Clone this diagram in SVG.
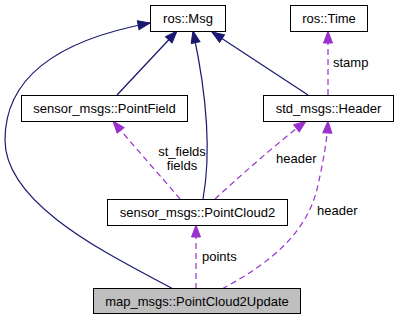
<svg xmlns="http://www.w3.org/2000/svg" width="399" height="320" viewBox="0 0 399 320">
  <style>
    .node rect { fill: #ffffff; stroke: #000000; stroke-width: 1; }
    .node.current rect { fill: #bfbfbf; }
    .node text { font-family: "Liberation Sans", Arial, sans-serif; font-size: 13px; text-anchor: middle; fill: #000000; }
    .inherit { fill: none; stroke: #191970; stroke-width: 1.2; }
    .member { fill: none; stroke: #9a32cd; stroke-width: 1.2; stroke-dasharray: 6,4; }
    .label { font-family: "Liberation Sans", Arial, sans-serif; font-size: 13px; fill: #000000; }
  </style>
  <defs>
    <marker id="arrowInherit" markerUnits="userSpaceOnUse" markerWidth="14" markerHeight="11" refX="13" refY="5" orient="auto">
      <path d="M1,0.5 L13,5 L1,9.5 Z" fill="#191970" stroke="#191970" stroke-width="1"/>
    </marker>
    <marker id="arrowMember" markerUnits="userSpaceOnUse" markerWidth="14" markerHeight="11" refX="13" refY="5" orient="auto">
      <path d="M1,0.5 L13,5 L1,9.5 Z" fill="#9a32cd" stroke="#9a32cd" stroke-width="1"/>
    </marker>
  </defs>

  <g id="edges">
    <!-- inheritance edges -->
    <path class="inherit" marker-end="url(#arrowInherit)" d="M173,289 C110,255 5,205 5,140 C5,65 80,36 150,23"/>
    <path class="inherit" marker-end="url(#arrowInherit)" d="M117,95 L177,31"/>
    <path class="inherit" marker-end="url(#arrowInherit)" d="M203,199 C210,160 209,105 193,31"/>
    <path class="inherit" marker-end="url(#arrowInherit)" d="M308,95 L212,32"/>
    <!-- member usage edges -->
    <path class="member" marker-end="url(#arrowMember)" d="M328,95 L328,31"/>
    <text class="label" x="333" y="67">stamp</text>
    <path class="member" marker-end="url(#arrowMember)" d="M180,199 C160,175 135,148 113,121"/>
    <text class="label" x="182" y="156" text-anchor="middle">st_fields</text>
    <text class="label" x="182" y="170" text-anchor="middle">fields</text>
    <path class="member" marker-end="url(#arrowMember)" d="M215,199 C240,176 275,145 306,121"/>
    <text class="label" x="276" y="163">header</text>
    <path class="member" marker-end="url(#arrowMember)" d="M222,289 C272,262 308,232 318,185 C324,158 327,140 328,121"/>
    <text class="label" x="317" y="215">header</text>
    <path class="member" marker-end="url(#arrowMember)" d="M196,289 L196,225"/>
    <text class="label" x="202" y="261">points</text>
  </g>

  <g id="node-ros-Msg" class="node">
    <rect x="150.5" y="5.5" width="75" height="26"/>
    <text x="188" y="23">ros::Msg</text>
  </g>
  <g id="node-ros-Time" class="node">
    <rect x="290.5" y="5.5" width="77" height="26"/>
    <text x="329" y="23">ros::Time</text>
  </g>
  <g id="node-PointField" class="node">
    <rect x="21.5" y="95.5" width="166" height="26"/>
    <text x="104.5" y="113">sensor_msgs::PointField</text>
  </g>
  <g id="node-Header" class="node">
    <rect x="263.5" y="95.5" width="130" height="26"/>
    <text x="328.5" y="113">std_msgs::Header</text>
  </g>
  <g id="node-PointCloud2" class="node">
    <rect x="107.5" y="199.5" width="180" height="26"/>
    <text x="197.5" y="217">sensor_msgs::PointCloud2</text>
  </g>
  <g id="node-PointCloud2Update" class="node current">
    <rect x="93.5" y="288.5" width="207" height="25"/>
    <text x="197" y="305.5">map_msgs::PointCloud2Update</text>
  </g>
</svg>
